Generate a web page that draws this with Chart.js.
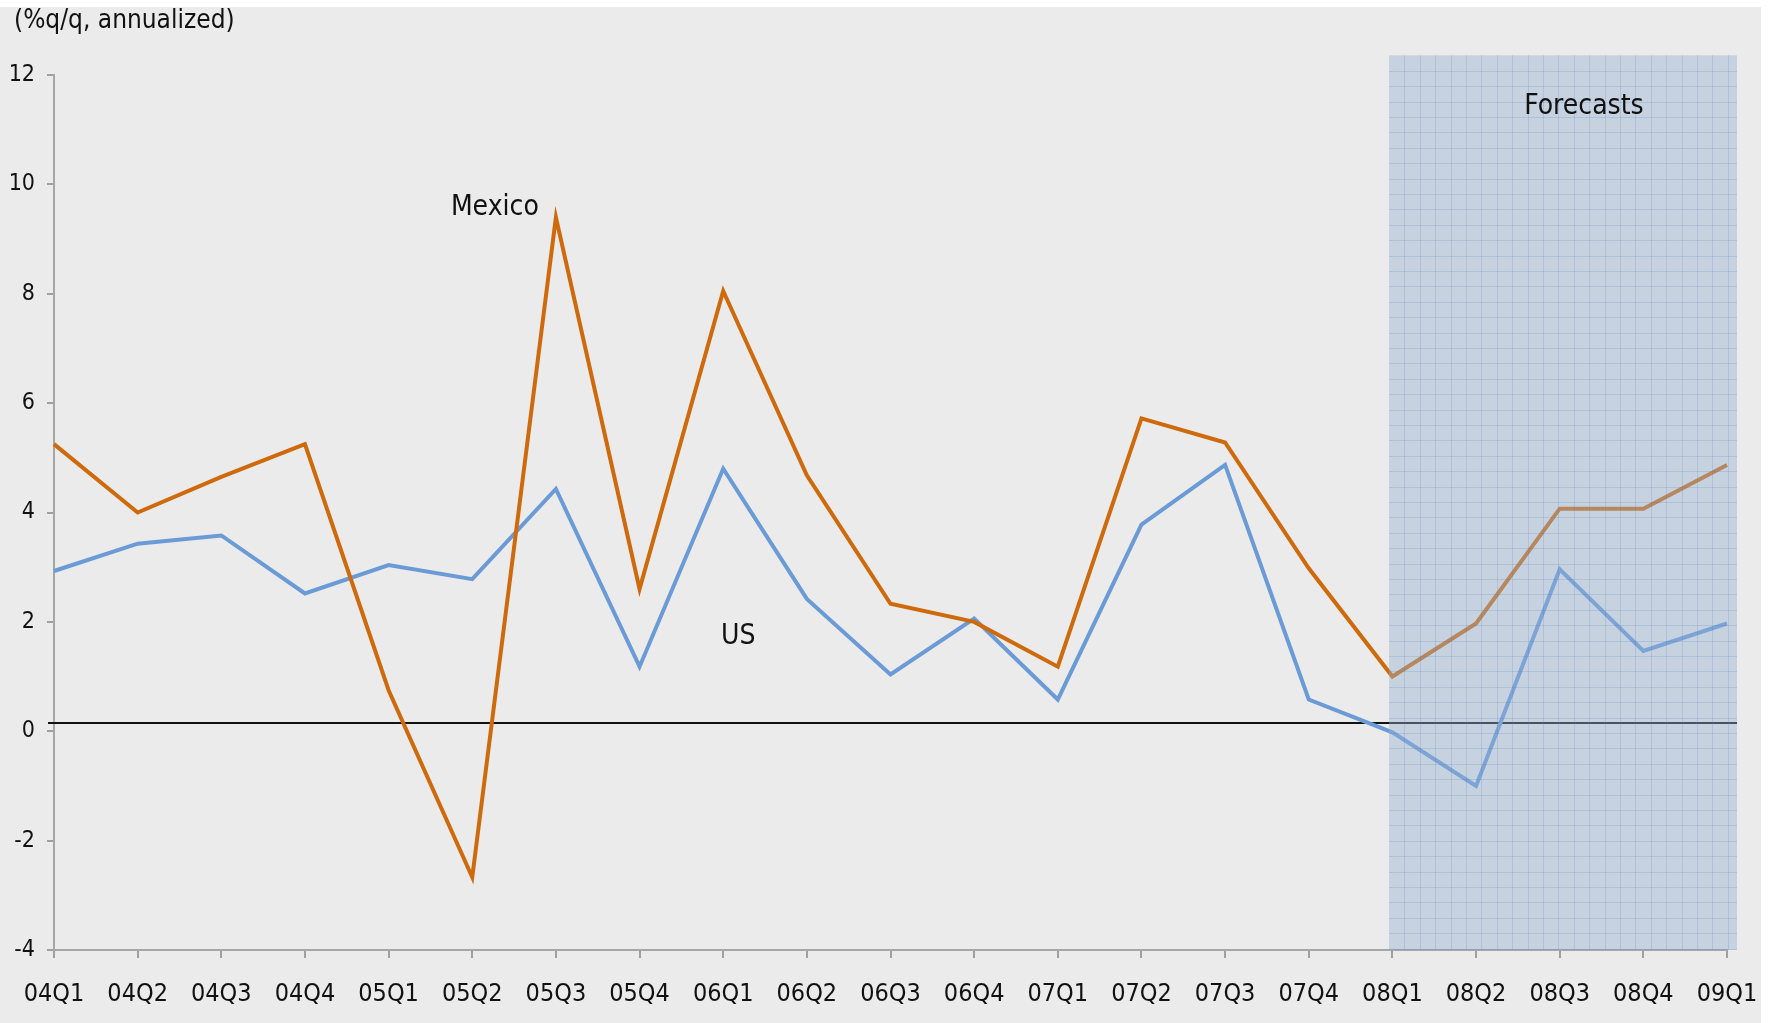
<!DOCTYPE html>
<html>
<head>
<meta charset="utf-8">
<script src="https://cdn.jsdelivr.net/npm/chart.js@4/dist/chart.umd.min.js"></script>
<style>
  body { margin: 0; background: #ffffff; }
  canvas { display: block; }
</style>
</head>
<body>
<canvas id="grafica" width="1772" height="1023"></canvas>
<script>
// quarters on the x axis
const quarters = ["04Q1", "04Q2", "04Q3", "04Q4", "05Q1", "05Q2", "05Q3", "05Q4",
    "06Q1", "06Q2", "06Q3", "06Q4", "07Q1", "07Q2", "07Q3", "07Q4",
    "08Q1", "08Q2", "08Q3", "08Q4", "09Q1"];

// GDP growth, %q/q annualized
const mexico = [5.25, 4.0, 4.65, 5.25, 0.75, -2.67, 9.4, 2.6, 8.05, 4.68, 2.33, 2.0,
    1.18, 5.72, 5.28, 2.98, 1.0, 1.97, 4.07, 4.07, 4.87];
const us = [2.93, 3.43, 3.58, 2.52, 3.04, 2.78, 4.43, 1.18, 4.8, 2.42, 1.04, 2.06,
    0.58, 3.78, 4.87, 0.58, -0.02, -1.0, 2.96, 1.47, 1.97];

const yTicks = [-4, -2, 0, 2, 4, 6, 8, 10, 12];

// shaded forecast window (x in category index, y in axis units)
const forecastFrom = 15.96;
const forecastTo = 20.12;
const forecastTop = 12.36;
const baselineValue = 0.15;

const fuente = "'DejaVu Sans Condensed', 'DejaVu Sans', sans-serif";

const fondo = {
    id: "fondo",
    beforeDraw(chart) {
        const ctx = chart.ctx;
        ctx.save();
        ctx.fillStyle = "#ebebeb";
        ctx.fillRect(0, 7, 1761, chart.height - 7);
        ctx.restore();
    }
};

const lineaCero = {
    id: "lineaCero",
    beforeDatasetsDraw(chart) {
        const ctx = chart.ctx;
        const x = chart.scales.x, y = chart.scales.y;
        const py = y.getPixelForValue(baselineValue);
        ctx.save();
        ctx.strokeStyle = "#111111";
        ctx.lineWidth = 2;
        ctx.beginPath();
        ctx.moveTo(chart.chartArea.left - 6, py);
        ctx.lineTo(x.getPixelForValue(forecastTo), py);
        ctx.stroke();
        ctx.restore();
    }
};

const pronostico = {
    id: "pronostico",
    afterDatasetsDraw(chart) {
        const ctx = chart.ctx;
        const x = chart.scales.x, y = chart.scales.y;
        const left = x.getPixelForValue(forecastFrom);
        const right = x.getPixelForValue(forecastTo);
        const top = y.getPixelForValue(forecastTop);
        const bottom = chart.chartArea.bottom;
        ctx.save();
        ctx.fillStyle = "rgba(150, 177, 210, 0.42)";
        ctx.fillRect(left, top, right - left, bottom - top);
        ctx.strokeStyle = "rgba(80, 120, 190, 0.2)";
        ctx.lineWidth = 1;
        const paso = 15.4;
        ctx.beginPath();
        for (let gx = left + paso; gx < right; gx += paso) {
            ctx.moveTo(Math.round(gx) + 0.5, top);
            ctx.lineTo(Math.round(gx) + 0.5, bottom);
        }
        for (let gy = top + paso; gy < bottom; gy += paso) {
            ctx.moveTo(left, Math.round(gy) + 0.5);
            ctx.lineTo(right, Math.round(gy) + 0.5);
        }
        ctx.stroke();
        ctx.restore();
    }
};

const textos = {
    id: "textos",
    afterDraw(chart) {
        const ctx = chart.ctx;
        const x = chart.scales.x, y = chart.scales.y;
        ctx.save();
        ctx.fillStyle = "#111111";
        ctx.textBaseline = "middle";
        ctx.font = "26px " + fuente;
        ctx.textAlign = "left";
        ctx.fillText("(%q/q, annualized)", 14, 21);
        ctx.font = "28px " + fuente;
        ctx.textAlign = "center";
        ctx.fillText("Mexico", x.getPixelForValue(5.27), y.getPixelForValue(9.58));
        ctx.fillText("US", x.getPixelForValue(8.18), y.getPixelForValue(1.73));
        ctx.fillText("Forecasts", x.getPixelForValue(18.29), y.getPixelForValue(11.42));
        ctx.restore();
    }
};

document.addEventListener("DOMContentLoaded", function () {

    let micanvas = document.getElementById("grafica").getContext("2d");

    let chart = new Chart(micanvas, {
        type: "line",
        data: {
            labels: quarters,
            datasets: [
                {
                    label: "Mexico",
                    data: mexico,
                    borderColor: "#cf6a0c",
                    borderWidth: 4,
                    pointRadius: 0,
                    tension: 0
                },
                {
                    label: "US",
                    data: us,
                    borderColor: "#6b9bd6",
                    borderWidth: 4,
                    pointRadius: 0,
                    tension: 0
                }
            ]
        },
        options: {
            responsive: false,
            animation: false,
            layout: { padding: { top: 75, right: 45, left: 0, bottom: 0 } },
            plugins: {
                legend: { display: false },
                tooltip: { enabled: false }
            },
            scales: {
                x: {
                    offset: false,
                    afterFit(scale) {
                        scale.height = 73;
                        scale.paddingRight = 0;
                        scale.paddingLeft = 0;
                    },
                    grid: {
                        drawOnChartArea: false,
                        drawTicks: true,
                        tickLength: 8,
                        color: "#a0a0a0",
                        lineWidth: 2
                    },
                    border: { display: true, color: "#a6a6a6", width: 2 },
                    ticks: {
                        autoSkip: false,
                        maxRotation: 0,
                        padding: 21,
                        color: "#111111",
                        font: { family: fuente, size: 25 }
                    }
                },
                y: {
                    min: -4,
                    max: 12,
                    afterFit(scale) { scale.width = 54; },
                    afterBuildTicks(scale) {
                        scale.ticks = yTicks.map(v => ({ value: v }));
                    },
                    grid: {
                        drawOnChartArea: false,
                        drawTicks: true,
                        tickLength: 7,
                        color: "#a0a0a0",
                        lineWidth: 2
                    },
                    border: { display: true, color: "#a6a6a6", width: 2 },
                    ticks: {
                        padding: 12,
                        color: "#111111",
                        font: { family: fuente, size: 23 }
                    }
                }
            }
        },
        plugins: [fondo, lineaCero, pronostico, textos]
    });

});
</script>
</body>
</html>
